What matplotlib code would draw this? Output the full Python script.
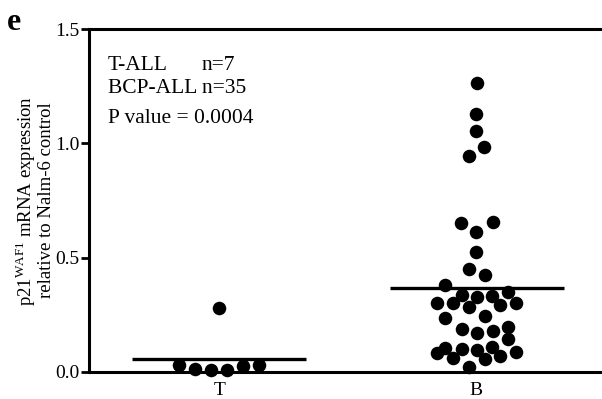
import numpy as np
import matplotlib
matplotlib.use("Agg")
import matplotlib.pyplot as plt

plt.rcParams['font.family'] = ['Liberation Serif', 'DejaVu Serif']
plt.rcParams['mathtext.fontset'] = 'custom'
plt.rcParams['mathtext.rm'] = 'Liberation Serif'

# grupper
groups = ['T', 'B']

# T-ALL (verdi, sideforskyvning i beeswarm)
t_values = [0.281, 0.032, 0.012, 0.009, 0.009, 0.026, 0.032]
t_offsets = [-0.005, -0.159, -0.096, -0.036, 0.026, 0.089, 0.151]
t_mean = 0.058

# BCP-ALL
b_values = [1.266, 1.127, 1.053, 0.983, 0.946,
            0.650, 0.656, 0.614, 0.524,
            0.451, 0.424, 0.381, 0.349, 0.337, 0.330, 0.332,
            0.303, 0.300, 0.283, 0.293, 0.303, 0.235, 0.245,
            0.187, 0.172, 0.181, 0.196, 0.144,
            0.106, 0.082, 0.060, 0.099, 0.096, 0.108, 0.070, 0.056, 0.089, 0.021]
b_offsets = [0.003, 0.001, 0.001, 0.032, -0.029,
             -0.060, 0.065, 0.001, 0.001,
             -0.027, 0.035, -0.121, 0.124, -0.056, 0.003, 0.061,
             -0.151, -0.091, -0.026, 0.094, 0.156, -0.121, 0.035,
             -0.056, 0.003, 0.065, 0.124, 0.124,
             -0.121, -0.151, -0.091, -0.056, 0.003, 0.061, 0.094, 0.035, 0.156, -0.026]
b_mean = 0.367

y_ticks = [0.0, 0.5, 1.0, 1.5]
y_ticklabels = ['0.0', '0.5', '1.0', '1.5']

fig = plt.figure(figsize=(6.02, 3.99), dpi=100)
ax = fig.add_axes([0.1478, 0.0677, 0.8522, 0.8596])

# punkter
ax.scatter(0 + np.array(t_offsets), t_values, s=95, color='black', zorder=3, clip_on=False, linewidths=0)
ax.scatter(1 + np.array(b_offsets), b_values, s=95, color='black', zorder=3, clip_on=False, linewidths=0)

# gjennomsnitt
ax.plot([-0.344, 0.336], [t_mean, t_mean], color='black', lw=2.4, solid_capstyle='butt')
ax.plot([1 - 0.336, 1 + 0.344], [b_mean, b_mean], color='black', lw=2.4, solid_capstyle='butt')

ax.set_xlim(-0.512, 1.492)
ax.set_ylim(0, 1.5)
ax.set_xticks([0, 1])
ax.set_xticklabels(groups, fontsize=14)
ax.set_yticks(y_ticks)
ax.set_yticklabels(y_ticklabels, fontsize=14)
ax.tick_params(axis='x', length=0, pad=7)
ax.tick_params(axis='y', length=6, width=2, pad=1)

ax.spines['right'].set_visible(False)
for side in ['left', 'bottom', 'top']:
    ax.spines[side].set_linewidth(2.2)

ax.set_ylabel('p21$^{\\mathrm{WAF1}}$ mRNA expression\nrelative to Nalm-6 control', fontsize=13.5, labelpad=0, linespacing=1.0)

# tekst
ax.text(0.037, 1.321, 'T-ALL', fontsize=15.5, transform=ax.get_yaxis_transform())
ax.text(0.220, 1.321, 'n=7', fontsize=15.5, transform=ax.get_yaxis_transform())
ax.text(0.037, 1.220, 'BCP-ALL n=35', fontsize=15.5, transform=ax.get_yaxis_transform())
ax.text(0.037, 1.089, 'P value = 0.0004', fontsize=15.5, transform=ax.get_yaxis_transform())

fig.text(0.012, 0.925, 'e', fontsize=23, fontweight='bold')

plt.savefig('out.png', dpi=100)
